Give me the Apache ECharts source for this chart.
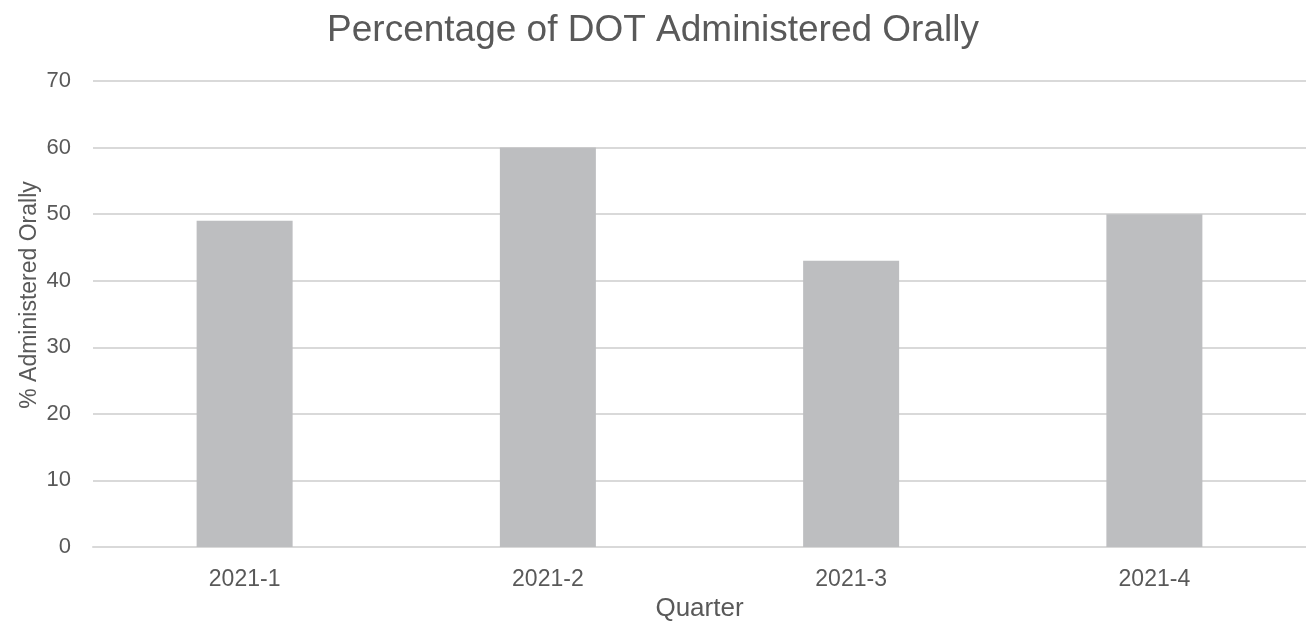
<!DOCTYPE html>
<html>
<head>
<meta charset="utf-8">
<script src="https://cdn.jsdelivr.net/npm/echarts@6/dist/echarts.min.js"></script>
<style>
  html, body { margin: 0; padding: 0; background: #fff; }
  #chart { width: 1306px; height: 621px; }
</style>
</head>
<body>
<div id="chart"></div>
<script>
// Quarterly share of DOT given by mouth
const quarters = ['2021-1', '2021-2', '2021-3', '2021-4'];
const oralPercent = [49, 60, 43, 50];
const yTicks = [0, 10, 20, 30, 40, 50, 60, 70];

const textColor = '#595959';
const fontFamily = '"Liberation Sans", Arial, sans-serif';

const chart = echarts.init(document.getElementById('chart'));
chart.setOption({
  animation: false,
  backgroundColor: '#ffffff',
  title: {
    text: 'Percentage of DOT Administered Orally',
    left: 'center',
    top: 7,
    textStyle: { color: textColor, fontFamily, fontSize: 37, fontWeight: 'normal' }
  },
  grid: { left: 93, right: 0, top: 81, bottom: 74, outerBoundsMode: 'none', containLabel: false },
  xAxis: {
    type: 'category',
    data: quarters,
    name: 'Quarter',
    nameLocation: 'middle',
    nameGap: 49,
    nameMoveOverlap: false,
    nameTextStyle: { color: textColor, fontFamily, fontSize: 26 },
    axisLine: { lineStyle: { color: '#d9d9d9', width: 2 } },
    axisTick: { show: false },
    axisLabel: { color: textColor, fontFamily, fontSize: 23, margin: 21 }
  },
  yAxis: {
    type: 'value',
    min: yTicks[0],
    max: yTicks[yTicks.length - 1],
    interval: 10,
    name: '% Administered Orally',
    nameLocation: 'middle',
    nameGap: 52,
    nameMoveOverlap: false,
    nameTextStyle: { color: textColor, fontFamily, fontSize: 23, padding: [0, 0, 0, 38] },
    axisLine: { show: false },
    axisTick: { show: false },
    axisLabel: { color: textColor, fontFamily, fontSize: 22, margin: 22 },
    splitLine: { lineStyle: { color: '#d9d9d9', width: 2 } }
  },
  series: [{
    type: 'bar',
    data: oralPercent,
    barWidth: 96,
    itemStyle: { color: '#bdbec0' }
  }]
});
</script>
</body>
</html>
